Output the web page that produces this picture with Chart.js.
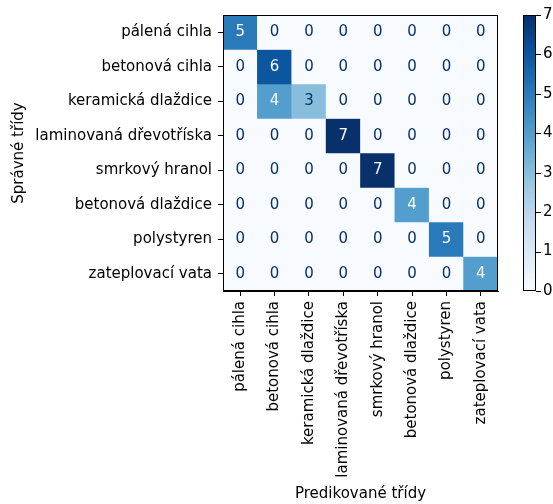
<!DOCTYPE html>
<html>
<head>
<meta charset="utf-8">
<script src="https://cdn.jsdelivr.net/npm/chart.js@4"></script>
<style>
  html, body { margin: 0; padding: 0; background: #fff; }
  #wrap { width: 553px; height: 504px; position: relative; }
</style>
</head>
<body>
<div id="wrap"><canvas id="grafico"></canvas></div>
<script>
const trueLabels = ["pálená cihla", "betonová cihla", "keramická dlaždice", "laminovaná dřevotříska",
  "smrkový hranol", "betonová dlaždice", "polystyren", "zateplovací vata"];
const predLabels = trueLabels.slice();

// rows = správné třídy, columns = predikované třídy
const matrix = [
  [5, 0, 0, 0, 0, 0, 0, 0],
  [0, 6, 0, 0, 0, 0, 0, 0],
  [0, 4, 3, 0, 0, 0, 0, 0],
  [0, 0, 0, 7, 0, 0, 0, 0],
  [0, 0, 0, 0, 7, 0, 0, 0],
  [0, 0, 0, 0, 0, 4, 0, 0],
  [0, 0, 0, 0, 0, 0, 5, 0],
  [0, 0, 0, 0, 0, 0, 0, 4]
];
const colorbarTicks = [0, 1, 2, 3, 4, 5, 6, 7];

const vmin = 0, vmax = 7;
const FONT = "DejaVu Sans";
const FS = 15;

// matplotlib "Blues"
const blues = ["#f7fbff", "#deebf7", "#c6dbef", "#9ecae1", "#6baed6", "#4292c6", "#2171b5", "#08519c", "#08306b"];

function hexToRgb(h) {
  return [parseInt(h.slice(1, 3), 16), parseInt(h.slice(3, 5), 16), parseInt(h.slice(5, 7), 16)];
}

function bluesColor(v) {
  let t = (v - vmin) / (vmax - vmin);
  t = Math.max(0, Math.min(1, t));
  const pos = t * (blues.length - 1);
  const i = Math.min(Math.floor(pos), blues.length - 2);
  const f = pos - i;
  const a = hexToRgb(blues[i]), b = hexToRgb(blues[i + 1]);
  const c = a.map((x, k) => Math.round(x + (b[k] - x) * f));
  return `rgb(${c[0]},${c[1]},${c[2]})`;
}

// one dataset per true row, stacked in y
const datasets = matrix.map((row, r) => ({
  label: trueLabels[r],
  data: row.map(() => 1),
  backgroundColor: row.map(v => bluesColor(v)),
  borderWidth: 0,
  barPercentage: 1,
  categoryPercentage: 1
}));

const cellText = {
  id: "cellText",
  afterDatasetsDraw(chart) {
    const { ctx, scales: { x, y } } = chart;
    const thresh = (vmax + vmin) / 2;
    ctx.save();
    ctx.font = `${FS}px "${FONT}"`;
    ctx.textAlign = "center";
    ctx.textBaseline = "middle";
    matrix.forEach((row, r) => {
      row.forEach((v, c) => {
        ctx.fillStyle = v < thresh ? blues[blues.length - 1] : blues[0];
        ctx.fillText(String(v), x.getPixelForValue(c), y.getPixelForValue(r + 0.5));
      });
    });
    ctx.restore();
  }
};

const frameAndColorbar = {
  id: "frameAndColorbar",
  afterDraw(chart) {
    const { ctx, chartArea: a } = chart;
    ctx.save();
    // frame
    ctx.strokeStyle = "#000";
    ctx.lineWidth = 1;
    ctx.strokeRect(a.left + 0.5, a.top + 0.5, a.right - a.left - 1, a.bottom - a.top - 1);

    // colorbar
    const cx = a.right + 25, cw = 13;
    const top = a.top, bot = a.bottom;
    const g = ctx.createLinearGradient(0, bot, 0, top);
    blues.forEach((c, i) => g.addColorStop(i / (blues.length - 1), c));
    ctx.fillStyle = g;
    ctx.fillRect(cx, top, cw, bot - top);
    ctx.strokeRect(cx + 0.5, top + 0.5, cw - 1, bot - top - 1);

    ctx.font = `${FS}px "${FONT}"`;
    ctx.fillStyle = "#000";
    ctx.textAlign = "left";
    ctx.textBaseline = "middle";
    colorbarTicks.forEach(t => {
      const py = bot - (t - vmin) / (vmax - vmin) * (bot - top);
      const yy = Math.round(py) + 0.5;
      ctx.beginPath();
      ctx.moveTo(cx + cw, yy);
      ctx.lineTo(cx + cw + 5, yy);
      ctx.stroke();
      ctx.fillText(String(t), cx + cw + 7, py);
    });
    ctx.restore();
  }
};

const ctx = document.getElementById("grafico");
new Chart(ctx, {
  type: "bar",
  data: { labels: predLabels, datasets: datasets },
  options: {
    responsive: true,
    maintainAspectRatio: false,
    animation: false,
    layout: { padding: { top: 15, right: 55, left: 0, bottom: 0 } },
    plugins: {
      legend: { display: false },
      tooltip: { enabled: false }
    },
    scales: {
      x: {
        type: "category",
        stacked: true,
        offset: true,
        grid: { offset: false, drawOnChartArea: false, drawTicks: true, tickLength: 5, color: "#000" },
        border: { display: true, color: "#000" },
        ticks: {
          color: "#000",
          font: { family: FONT, size: FS },
          maxRotation: 90,
          minRotation: 90,
          autoSkip: false,
          padding: 5
        },
        title: {
          display: true,
          text: "Predikované třídy",
          color: "#000",
          font: { family: FONT, size: FS },
          padding: { top: 4, bottom: 1 }
        },
        afterFit(scale) { scale.height = 213; }
      },
      y: {
        type: "linear",
        stacked: true,
        reverse: true,
        min: 0,
        max: trueLabels.length,
        grid: { drawOnChartArea: false, drawTicks: true, tickLength: 5, color: "#000" },
        border: { display: true, color: "#000" },
        afterBuildTicks(scale) {
          scale.ticks = trueLabels.map((_, i) => ({ value: i + 0.5 }));
        },
        ticks: {
          color: "#000",
          font: { family: FONT, size: FS },
          padding: 6,
          callback: (v, i) => trueLabels[i]
        },
        title: {
          display: true,
          text: "Správné třídy",
          color: "#000",
          font: { family: FONT, size: FS },
          padding: { top: 10, bottom: 4 }
        },
        afterFit(scale) { scale.width = 223; }
      }
    }
  },
  plugins: [cellText, frameAndColorbar]
});
</script>
</body>
</html>
